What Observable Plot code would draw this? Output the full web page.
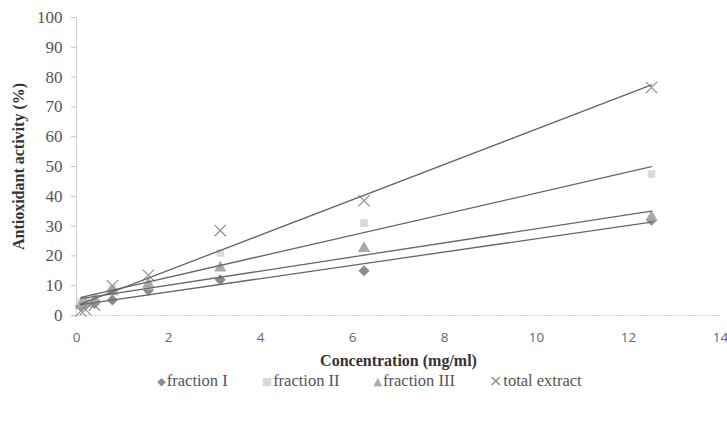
<!DOCTYPE html>
<html><head><meta charset="utf-8">
<script src="https://cdn.jsdelivr.net/npm/d3@7"></script>
<script src="https://cdn.jsdelivr.net/npm/@observablehq/plot@0.6"></script>
<style>
body{margin:0;background:#fff;width:727px;height:422px;overflow:hidden;}
#legend{font-family:"Liberation Serif","DejaVu Serif",serif;font-size:16.5px;color:#555;text-align:center;margin-top:0px;padding-left:12px;line-height:18px;}
#legend span.item{margin:0 17px;white-space:nowrap;}
#legend span.sym{font-family:"DejaVu Sans",sans-serif;font-size:11px;margin-right:1px;vertical-align:1px;}
</style>
</head><body>
<div id="chart"></div>
<div id="legend"></div>
<script>
const concentrations = [0.098, 0.195, 0.39, 0.78, 1.5625, 3.125, 6.25, 12.5];
const fractionI = [3, 3.5, 4, 5.2, 8.5, 12, 15, 32];
const fractionII = [4.5, 5, 6, 9, 10, 21, 31, 47.5];
const fractionIII = [3.5, 4, 5, 8, 10.5, 16, 22.5, 33];
const totalExtract = [1.5, 2, 3.5, 10, 13.5, 28.5, 38.5, 76.5];
const seriesNames = ["fraction I", "fraction II", "fraction III", "total extract"];
const xTicks = [0, 2, 4, 6, 8, 10, 12, 14];
const yTicks = [0, 10, 20, 30, 40, 50, 60, 70, 80, 90, 100];

const seriesValues = [fractionI, fractionII, fractionIII, totalExtract];
const styles = {
  "fraction I": {symbol: "diamond2", fill: "#8c8c8c", stroke: "#8c8c8c", r: 4.2, glyph: "\u25C6"},
  "fraction II": {symbol: "square", fill: "#d6d9e3", stroke: "none", r: 4.3, glyph: "\u25A0"},
  "fraction III": {symbol: "triangle", fill: "#a9a9a9", stroke: "none", r: 4.6, glyph: "\u25B2"},
  "total extract": {symbol: "times", fill: "none", stroke: "#8e8e8e", r: 5.2, glyph: "\u00D7"}
};
const rows = seriesNames.flatMap((name, i) =>
  concentrations.map((c, j) => ({series: name, x: c, y: seriesValues[i][j]})));

const marks = [
  Plot.ruleX([0], {stroke: "#cfcfcf", strokeWidth: 1}),
  Plot.ruleY([0], {stroke: "#cfcfcf", strokeWidth: 1, strokeDasharray: "2,1"}),
  Plot.axisY({ticks: yTicks, tickSize: 5, tickPadding: 9, stroke: "#c4c4c4",
    fontFamily: "Liberation Serif", fontSize: 17, fill: "#555", label: null}),
  Plot.axisX({ticks: xTicks, tickSize: 0, tickPadding: 17, fontFamily: "Open Sans", fontSize: 13.5, fill: "#666", label: null}),
  Plot.text(["Antioxidant activity (%)"], {frameAnchor: "left", textAnchor: "middle", dx: -58, rotate: -90, fontFamily: "Liberation Serif", fontWeight: "bold", fontSize: 16, fill: "#333"}),
  Plot.text(["Concentration (mg/ml)"], {frameAnchor: "bottom", dy: 50, fontFamily: "Liberation Serif", fontWeight: "bold", fontSize: 16, fill: "#333"})
];
for (const name of seriesNames) {
  const s = styles[name];
  const data = rows.filter(d => d.series === name);
  marks.push(Plot.dot(data, {x: "x", y: "y", symbol: () => s.symbol, r: s.r, fill: s.fill, stroke: s.stroke, strokeWidth: 1.2}));
}
for (const name of seriesNames) {
  const data = rows.filter(d => d.series === name);
  marks.push(Plot.linearRegressionY(data, {x: "x", y: "y", stroke: "#666", strokeWidth: 1.3, ci: 0}));
}

const chart = Plot.plot({
  width: 727, height: 372,
  marginLeft: 76, marginRight: 7, marginTop: 17, marginBottom: 57,
  x: {domain: [0, 14]},
  y: {domain: [0, 100]},
  symbol: {type: "identity"},
  style: {background: "#fff", overflow: "visible"},
  marks
});
document.getElementById("chart").appendChild(chart);

const legend = document.getElementById("legend");
for (const name of seriesNames) {
  const s = styles[name];
  const item = document.createElement("span");
  item.className = "item";
  const sym = document.createElement("span");
  sym.className = "sym";
  sym.textContent = s.glyph;
  sym.style.color = s.fill === "none" ? s.stroke : s.fill;
  if (s.glyph === "\u00D7") { sym.style.fontSize = "16px"; sym.style.verticalAlign = "0px"; }
  item.appendChild(sym);
  item.appendChild(document.createTextNode(name));
  legend.appendChild(item);
}
</script>
</body></html>
